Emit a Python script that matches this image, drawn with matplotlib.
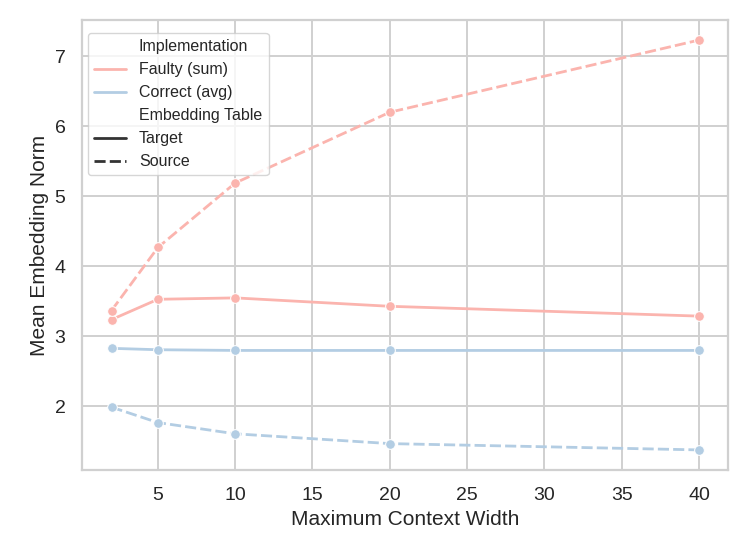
import pandas as pd
import seaborn as sns
import matplotlib
matplotlib.use('Agg')
import matplotlib.pyplot as plt

widths = [2, 5, 10, 20, 40]
faulty_target = [3.24, 3.53, 3.55, 3.43, 3.29]
faulty_source = [3.37, 4.27, 5.19, 6.20, 7.23]
correct_target = [2.83, 2.81, 2.80, 2.80, 2.80]
correct_source = [1.99, 1.77, 1.61, 1.47, 1.38]

series = [
    ('Faulty (sum)', 'Target', faulty_target),
    ('Faulty (sum)', 'Source', faulty_source),
    ('Correct (avg)', 'Target', correct_target),
    ('Correct (avg)', 'Source', correct_source),
]

rows = []
for impl, table, values in series:
    for w, v in zip(widths, values):
        rows.append({'Maximum Context Width': w, 'Mean Embedding Norm': v,
                     'Implementation': impl, 'Embedding Table': table})
df = pd.DataFrame(rows)

sns.set_theme(style='whitegrid', palette='Pastel1',
              rc={'grid.color': '#d0d0d0', 'grid.linewidth': 1.4,
                  'axes.edgecolor': '#d0d0d0', 'axes.linewidth': 1.6})
plt.rcParams['font.family'] = ['Liberation Sans', 'DejaVu Sans']

fig, ax = plt.subplots(figsize=(7.47, 5.6), dpi=100)
sns.lineplot(data=df, x='Maximum Context Width', y='Mean Embedding Norm',
             hue='Implementation', style='Embedding Table', marker='o',
             markersize=7, linewidth=2.0, ax=ax)

ax.tick_params(labelsize=14, pad=6)
ax.set_xlabel('Maximum Context Width', fontsize=15)
ax.set_ylabel('Mean Embedding Norm', fontsize=15)

handles, labels = ax.get_legend_handles_labels()
for h in handles:
    h.set_marker('')
    h.set_linewidth(2)
ax.legend(handles, labels, loc='upper left', fontsize=11.5,
          borderaxespad=0.6, bbox_to_anchor=(-0.006, 0.992))

fig.subplots_adjust(left=0.11, right=0.975, top=0.965, bottom=0.16)
fig.savefig('out.png')
